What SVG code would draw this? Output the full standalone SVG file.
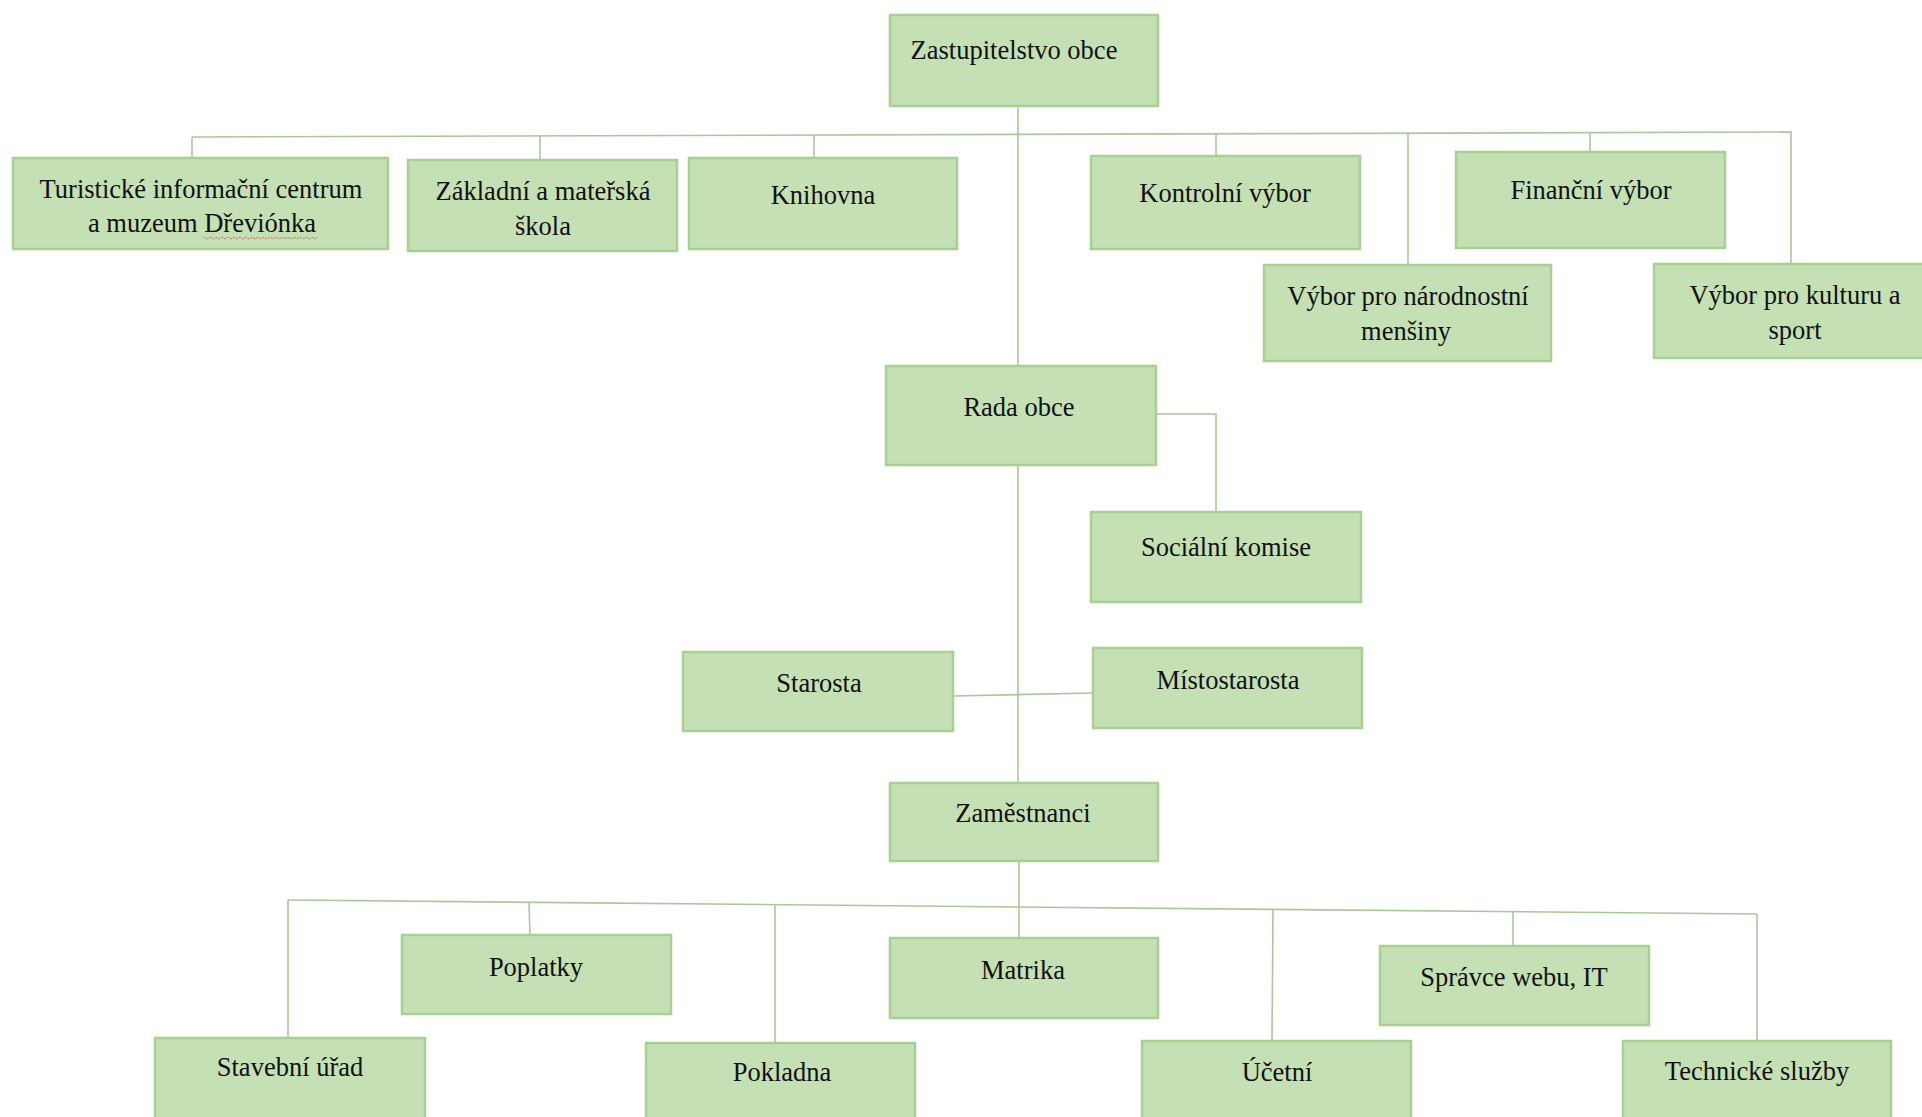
<svg xmlns="http://www.w3.org/2000/svg" width="1922" height="1117" viewBox="0 0 1922 1117">
<style>
.box{fill:#c5e0b4;stroke:#a9cf92;stroke-width:2.5}
.t{font-family:"Liberation Serif","Times New Roman",serif;font-size:26.5px;fill:#111111;text-anchor:middle}
.c{fill:none;stroke:#aac69c;stroke-width:1.6}
</style>
<rect width="1922" height="1117" fill="#ffffff"/>
<g id="connectors">
<line class="c" x1="192" y1="137" x2="1792" y2="132"/>
<line class="c" x1="192" y1="137" x2="192" y2="158"/>
<line class="c" x1="540" y1="136" x2="540" y2="160"/>
<line class="c" x1="814" y1="135" x2="814" y2="158"/>
<line class="c" x1="1018" y1="106" x2="1018" y2="366"/>
<line class="c" x1="1216" y1="134" x2="1216" y2="156"/>
<line class="c" x1="1408" y1="133" x2="1408" y2="265"/>
<line class="c" x1="1590" y1="133" x2="1590" y2="152"/>
<line class="c" x1="1791" y1="132" x2="1791" y2="264"/>
<polyline class="c" points="1156,414 1216,414 1216,512"/>
<line class="c" x1="1018" y1="465" x2="1018" y2="783"/>
<line class="c" x1="953" y1="696" x2="1093" y2="693"/>
<line class="c" x1="288" y1="900" x2="1757" y2="914"/>
<line class="c" x1="288" y1="900" x2="288" y2="1038"/>
<line class="c" x1="529" y1="902" x2="530" y2="935"/>
<line class="c" x1="775" y1="905" x2="775" y2="1043"/>
<line class="c" x1="1019" y1="861" x2="1019" y2="938"/>
<line class="c" x1="1273" y1="909" x2="1272" y2="1041"/>
<line class="c" x1="1513" y1="912" x2="1513" y2="946"/>
<line class="c" x1="1757" y1="914" x2="1757" y2="1041"/>
</g>
<g id="zastupitelstvo"><rect class="box" x="890" y="15" width="268" height="91"/><text class="t" x="1014" y="59">Zastupitelstvo obce</text></g>
<g id="turisticke"><rect class="box" x="13" y="158" width="375" height="91"/><text class="t" x="201" y="198">Turistické informační centrum</text><text class="t" x="202" y="232">a muzeum Dřeviónka</text><path d="M204,237 l3,2 l3,-2 l3,2 l3,-2 l3,2 l3,-2 l3,2 l3,-2 l3,2 l3,-2 l3,2 l3,-2 l3,2 l3,-2 l3,2 l3,-2 l3,2 l3,-2 l3,2 l3,-2 l3,2 l3,-2 l3,2 l3,-2 l3,2 l3,-2 l3,2 l3,-2 l3,2 l3,-2 l3,2 l3,-2 l3,2 l3,-2 l3,2 l3,-2 l3,2 l3,-2" fill="none" stroke="#d9534f" stroke-width="1" stroke-dasharray="2,1.5"/></g>
<g id="zakladni"><rect class="box" x="408" y="160" width="269" height="91"/><text class="t" x="543" y="200">Základní a mateřská</text><text class="t" x="543" y="235">škola</text></g>
<g id="knihovna"><rect class="box" x="689" y="158" width="268" height="91"/><text class="t" x="823" y="204">Knihovna</text></g>
<g id="kontrolni"><rect class="box" x="1091" y="156" width="269" height="93"/><text class="t" x="1225" y="202">Kontrolní výbor</text></g>
<g id="financni"><rect class="box" x="1456" y="152" width="269" height="96"/><text class="t" x="1591" y="199">Finanční výbor</text></g>
<g id="narodnostni"><rect class="box" x="1264" y="265" width="287" height="96"/><text class="t" x="1408" y="305">Výbor pro národnostní</text><text class="t" x="1406" y="340">menšiny</text></g>
<g id="kultura"><rect class="box" x="1654" y="264" width="275" height="94"/><text class="t" x="1795" y="304">Výbor pro kulturu a</text><text class="t" x="1795" y="339">sport</text></g>
<g id="rada"><rect class="box" x="886" y="366" width="270" height="99"/><text class="t" x="1019" y="416">Rada obce</text></g>
<g id="socialni"><rect class="box" x="1091" y="512" width="270" height="90"/><text class="t" x="1226" y="556">Sociální komise</text></g>
<g id="starosta"><rect class="box" x="683" y="652" width="270" height="79"/><text class="t" x="819" y="692">Starosta</text></g>
<g id="mistostarosta"><rect class="box" x="1093" y="648" width="269" height="80"/><text class="t" x="1228" y="689">Místostarosta</text></g>
<g id="zamestnanci"><rect class="box" x="890" y="783" width="268" height="78"/><text class="t" x="1023" y="822">Zaměstnanci</text></g>
<g id="poplatky"><rect class="box" x="402" y="935" width="269" height="79"/><text class="t" x="536" y="976">Poplatky</text></g>
<g id="matrika"><rect class="box" x="890" y="938" width="268" height="80"/><text class="t" x="1023" y="979">Matrika</text></g>
<g id="spravce"><rect class="box" x="1380" y="946" width="269" height="79"/><text class="t" x="1514" y="986">Správce webu, IT</text></g>
<g id="stavebni"><rect class="box" x="155" y="1038" width="270" height="90"/><text class="t" x="290" y="1076">Stavební úřad</text></g>
<g id="pokladna"><rect class="box" x="646" y="1043" width="269" height="85"/><text class="t" x="782" y="1081">Pokladna</text></g>
<g id="ucetni"><rect class="box" x="1142" y="1041" width="269" height="87"/><text class="t" x="1277" y="1081">Účetní</text></g>
<g id="technicke"><rect class="box" x="1623" y="1041" width="268" height="87"/><text class="t" x="1757" y="1080">Technické služby</text></g>
</svg>
